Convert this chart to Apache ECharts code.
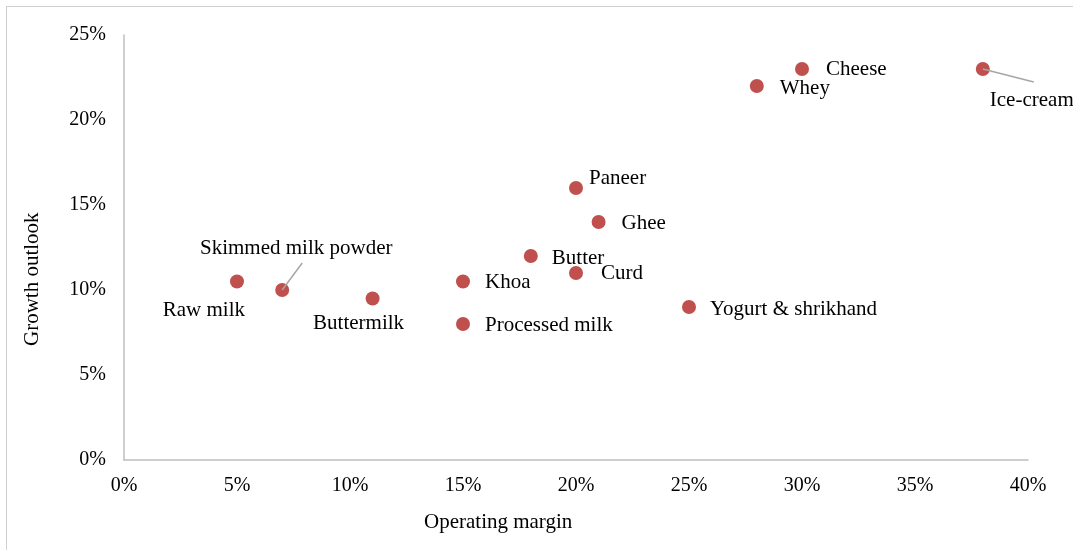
<!DOCTYPE html>
<html>
<head>
<meta charset="utf-8">
<title>Dairy products: operating margin vs growth outlook</title>
<script src="https://cdn.jsdelivr.net/npm/echarts@6/dist/echarts.min.js"></script>
<style>
  html, body { margin: 0; padding: 0; background: #fff; overflow: hidden; }
  #frame {
    position: absolute; left: 6px; top: 6px; width: 1200px; height: 700px;
    border: 1px solid #d0d0d0; box-sizing: border-box;
  }
  #chart { position: absolute; left: 0; top: 0; width: 1073px; height: 550px; }
</style>
</head>
<body>
<div id="frame"></div>
<div id="chart"></div>
<script>
// Products and their operating margin (%) / growth outlook (%)
const products = [
  'Raw milk', 'Skimmed milk powder', 'Buttermilk', 'Khoa', 'Processed milk',
  'Butter', 'Curd', 'Paneer', 'Ghee', 'Yogurt & shrikhand',
  'Whey', 'Cheese', 'Ice-cream'
];
const operatingMargin = [5, 7, 11, 15, 15, 18, 20, 20, 21, 25, 28, 30, 38];
const growthOutlook   = [10.5, 10, 9.5, 10.5, 8, 12, 11, 16, 14, 9, 22, 23, 23];

const xTicks = [0, 5, 10, 15, 20, 25, 30, 35, 40];
const yTicks = [0, 5, 10, 15, 20, 25];

// Label placement per product: [align, dx, dy] relative to the marker centre
const labelPlacement = {
  'Raw milk':            ['right', 8, 29],
  'Skimmed milk powder': ['center', 14, -42],
  'Buttermilk':          ['center', -14, 25],
  'Khoa':                ['left', 22, 1],
  'Processed milk':      ['left', 22, 1],
  'Butter':              ['left', 21, 2],
  'Curd':                ['left', 25, 0],
  'Paneer':              ['left', 13, -10],
  'Ghee':                ['left', 23, 1],
  'Yogurt & shrikhand':  ['left', 21, 2],
  'Whey':                ['left', 23, 2],
  'Cheese':              ['left', 24, 0],
  'Ice-cream':           ['left', 7, 31]
};
// Leader lines from marker centre towards a displaced label (pixel offsets)
const leaders = {
  'Skimmed milk powder': [20, -27],
  'Ice-cream':           [51, 13]
};

const FONT = '"Liberation Serif", "Times New Roman", serif';
const FS = 20;      // tick labels
const FS_TEXT = 21; // point labels and axis titles
const AXIS_COLOR = '#bfbfbf';

const points = products.map((name, i) => {
  const p = labelPlacement[name];
  return {
    name: name,
    value: [operatingMargin[i], growthOutlook[i]],
    label: { align: p[0], offset: [p[1], p[2]] }
  };
});

const leaderData = products
  .map((name, i) => leaders[name] ? [operatingMargin[i], growthOutlook[i], leaders[name][0], leaders[name][1]] : null)
  .filter(d => d);

const chart = echarts.init(document.getElementById('chart'), null, { renderer: 'canvas' });

chart.setOption({
  animation: false,
  backgroundColor: 'transparent',
  grid: { left: 124, right: 45, top: 35, bottom: 90, containLabel: false },
  xAxis: {
    type: 'value', min: 0, max: 40, interval: 5,
    axisLine: { show: true, lineStyle: { color: AXIS_COLOR, width: 1.5 } },
    axisTick: { show: false },
    splitLine: { show: false },
    axisLabel: {
      margin: 16, color: '#000', fontFamily: FONT, fontSize: FS,
      formatter: v => v + '%'
    }
  },
  yAxis: {
    type: 'value', min: 0, max: 25, interval: 5,
    axisLine: { show: true, lineStyle: { color: AXIS_COLOR, width: 1.5 } },
    axisTick: { show: false },
    splitLine: { show: false },
    axisLabel: {
      margin: 18, color: '#000', fontFamily: FONT, fontSize: FS,
      formatter: v => v + '%'
    }
  },
  graphic: [
    {
      type: 'text', left: 424, top: 512,
      style: { text: 'Operating margin', fill: '#000', font: FS_TEXT + 'px ' + FONT }
    },
    {
      type: 'text', x: 22, y: 346, rotation: Math.PI / 2,
      style: { text: 'Growth outlook', fill: '#000', font: FS_TEXT + 'px ' + FONT }
    }
  ],
  series: [
    {
      type: 'scatter',
      data: points,
      symbol: 'circle',
      symbolSize: 14,
      itemStyle: { color: '#c0504d', opacity: 1 },
      label: {
        show: true,
        position: 'inside',
        formatter: p => p.name,
        color: '#000',
        fontFamily: FONT,
        fontSize: FS_TEXT,
        verticalAlign: 'middle'
      },
      z: 2
    },
    {
      type: 'custom',
      data: leaderData,
      z: 3,
      silent: true,
      renderItem: (params, api) => {
        const c = api.coord([api.value(0), api.value(1)]);
        return {
          type: 'line',
          shape: { x1: c[0], y1: c[1], x2: c[0] + api.value(2), y2: c[1] + api.value(3) },
          style: { stroke: '#a6a6a6', lineWidth: 1.5 }
        };
      }
    }
  ]
});
</script>
</body>
</html>
